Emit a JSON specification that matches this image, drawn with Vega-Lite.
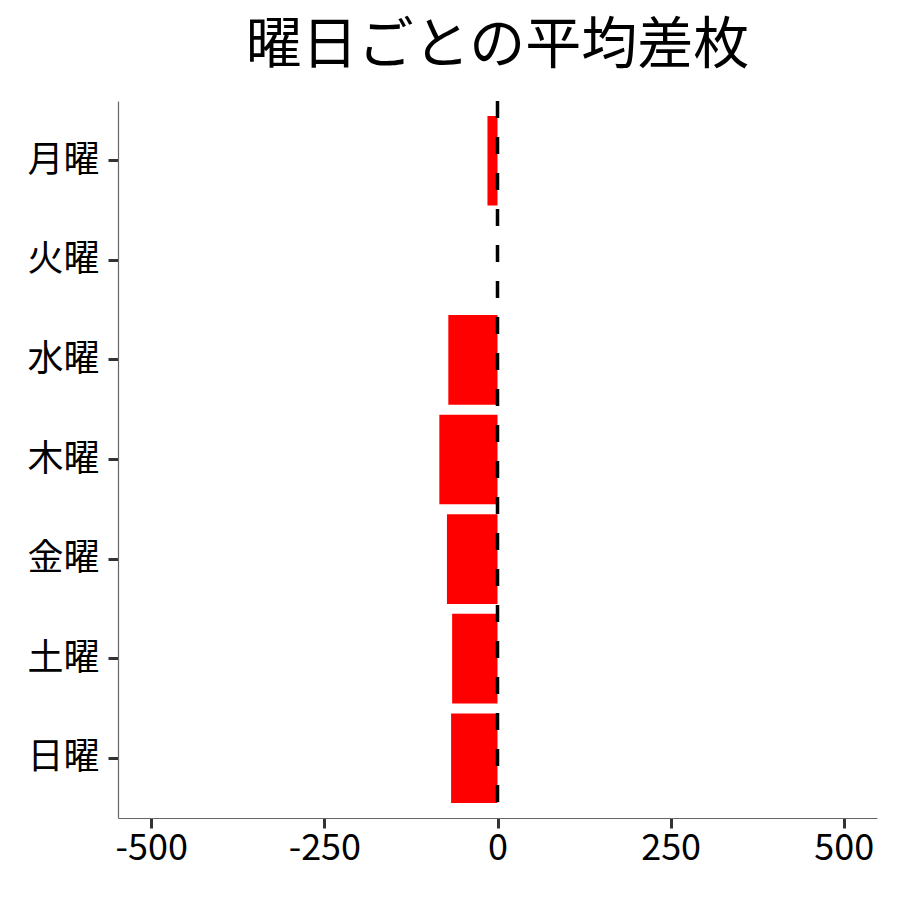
{
  "$schema": "https://vega.github.io/schema/vega-lite/v6.json",
  "autosize": "none",
  "width": 759,
  "height": 717,
  "padding": {"left": 118, "top": 101, "right": 23, "bottom": 82},
  "background": "white",
  "title": {
    "text": "曜日ごとの平均差枚",
    "font": "Noto Sans CJK JP",
    "fontSize": 56,
    "fontWeight": "normal",
    "color": "black",
    "anchor": "middle",
    "offset": 24
  },
  "config": {
    "view": {"stroke": null},
    "axis": {
      "labelFont": "Noto Sans CJK JP",
      "labelFontSize": 36,
      "labelColor": "black",
      "domainColor": "#666666",
      "domainWidth": 1.2,
      "tickColor": "#333333",
      "tickWidth": 3,
      "tickSize": 10,
      "grid": false,
      "title": null
    }
  },
  "layer": [
    {
      "data": {
        "values": [
          {"day": "月曜", "diff": -14.5},
          {"day": "火曜", "diff": 0},
          {"day": "水曜", "diff": -71},
          {"day": "木曜", "diff": -84},
          {"day": "金曜", "diff": -73},
          {"day": "土曜", "diff": -65.5},
          {"day": "日曜", "diff": -67}
        ]
      },
      "mark": {"type": "bar", "color": "#ff0000"},
      "encoding": {
        "y": {
          "field": "day",
          "type": "nominal",
          "sort": ["月曜", "火曜", "水曜", "木曜", "金曜", "土曜", "日曜"],
          "scale": {"paddingInner": 0.1, "paddingOuter": 0.15},
          "axis": {"labelPadding": 9}
        },
        "x": {
          "field": "diff",
          "type": "quantitative",
          "scale": {"domain": [-548, 548], "nice": false, "zero": false},
          "axis": {
            "values": [-500, -250, 0, 250, 500],
            "labelExpr": "replace(datum.label, '−', '-')",
            "labelPadding": 3
          }
        }
      }
    },
    {
      "data": {"values": [{"zero": 0}]},
      "mark": {"type": "rule", "color": "black", "strokeWidth": 3.5, "strokeDash": [17, 19]},
      "encoding": {
        "x": {"field": "zero", "type": "quantitative"}
      }
    }
  ]
}
